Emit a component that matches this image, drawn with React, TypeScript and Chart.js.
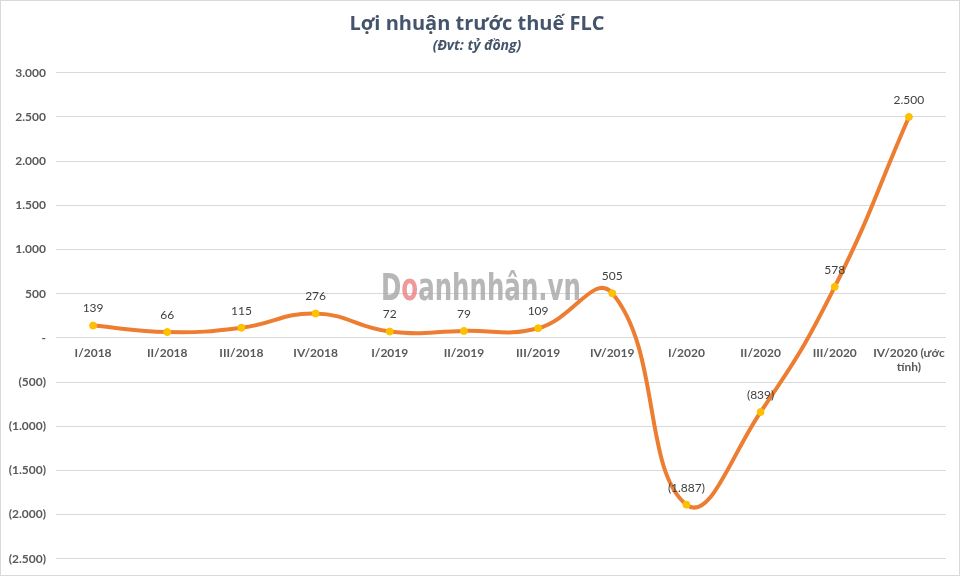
import React, { useEffect, useRef } from "react";
import { Chart, registerables } from "chart.js";

Chart.register(...registerables);

const categories: (string | string[])[] = [
  "I/2018", "II/2018", "III/2018", "IV/2018",
  "I/2019", "II/2019", "III/2019", "IV/2019",
  "I/2020", "II/2020", "III/2020", ["IV/2020 (ước", "tính)"],
];
const profitValues: number[] = [139, 66, 115, 276, 72, 79, 109, 505, -1887, -839, 578, 2500];
const titleText = "Lợi nhuận trước thuế FLC";
const subtitleText = "(Đvt: tỷ đồng)";
const watermarkText = ["D", "o", "anhnhân.vn"];
const yMin = -2500;
const yMax = 3000;
const yStep = 500;

function fmt(v: number): string {
  if (v === 0) return "-";
  const s = Math.abs(Math.round(v)).toString().replace(/\B(?=(\d{3})+(?!\d))/g, ".");
  return v < 0 ? `(${s})` : s;
}

const FONT = "Lato, 'Open Sans', sans-serif";

export default function App() {
  const ref = useRef<HTMLCanvasElement | null>(null);

  useEffect(() => {
    document.body.style.margin = "0";
    const canvas = ref.current;
    if (!canvas) return;

    const framePlugin = {
      id: "frame",
      beforeDraw(chart: any) {
        const ctx = chart.ctx;
        ctx.save();
        ctx.fillStyle = "#ffffff";
        ctx.fillRect(0, 0, chart.width, chart.height);
        ctx.strokeStyle = "#d9d9d9";
        ctx.lineWidth = 1;
        ctx.strokeRect(0.5, 0.5, chart.width - 1, chart.height - 1);
        ctx.restore();
      },
    };

    const watermarkPlugin = {
      id: "watermark",
      beforeDatasetsDraw(chart: any) {
        const ctx = chart.ctx;
        ctx.save();
        ctx.font = `bold 38px 'DejaVu Sans Condensed', 'Liberation Sans', sans-serif`;
        ctx.textBaseline = "alphabetic";
        const total = watermarkText.reduce((a, t) => a + ctx.measureText(t).width, 0);
        const targetW = 200;
        const sx = targetW / total;
        ctx.translate(381, 300);
        ctx.scale(sx, 1);
        let x = 0;
        watermarkText.forEach((t, i) => {
          ctx.fillStyle = i === 1 ? "rgba(232,120,120,0.75)" : "rgba(165,165,165,0.8)";
          ctx.fillText(t, x, 0);
          x += ctx.measureText(t).width;
        });
        ctx.restore();
      },
    };

    const labelsPlugin = {
      id: "pointLabels",
      afterDatasetsDraw(chart: any) {
        const ctx = chart.ctx;
        const meta = chart.getDatasetMeta(0);
        ctx.save();
        ctx.font = `12px ${FONT}`;
        ctx.fillStyle = "#404040";
        ctx.textAlign = "center";
        ctx.textBaseline = "middle";
        meta.data.forEach((pt: any, i: number) => {
          ctx.fillText(fmt(profitValues[i]), pt.x, pt.y - 17);
        });
        ctx.restore();
      },
    };

    const chart = new Chart(canvas, {
      type: "line",
      data: {
        labels: categories,
        datasets: [
          {
            data: profitValues,
            borderColor: "#ED7D31",
            borderWidth: 4,
            tension: 0.45,
            pointRadius: 3.5,
            pointBackgroundColor: "#FFC000",
            pointBorderColor: "#FFC000",
            pointBorderWidth: 1,
            fill: false,
          },
        ],
      },
      options: {
        animation: false,
        responsive: false,
        devicePixelRatio: 1,
        layout: { padding: { left: 8, right: 14, bottom: 15, top: 2 } },
        plugins: {
          legend: { display: false },
          tooltip: { enabled: false },
          title: {
            display: true,
            text: titleText,
            color: "#44546A",
            font: { family: "'Open Sans', sans-serif", size: 20, weight: "bold" },
            padding: { top: 10, bottom: 2 },
          },
          subtitle: {
            display: true,
            text: subtitleText,
            color: "#44546A",
            font: { family: "'Open Sans', sans-serif", size: 14, weight: "bold", style: "italic" },
            padding: { bottom: 18 },
          },
        },
        scales: {
          x: {
            type: "category",
            position: { y: 0 } as any,
            offset: true,
            grid: { display: false, drawTicks: false },
            border: { display: false },
            ticks: {
              color: "#595959",
              font: { family: FONT, size: 12, weight: "bold" },
              padding: 8,
              maxRotation: 0,
              autoSkip: false,
            },
          },
          y: {
            min: yMin,
            max: yMax,
            grid: { color: "#d9d9d9", drawTicks: false, lineWidth: 1 },
            border: { display: false },
            afterFit(scale: any) {
              scale.width = 48;
            },
            ticks: {
              stepSize: yStep,
              color: "#595959",
              font: { family: FONT, size: 12, weight: "bold" },
              padding: 10,
              callback: (v: any) => fmt(Number(v)),
            },
          },
        },
      },
      plugins: [framePlugin, watermarkPlugin, labelsPlugin],
    } as any);

    return () => chart.destroy();
  }, []);

  return <canvas ref={ref} width={960} height={576} style={{ display: "block" }} />;
}
